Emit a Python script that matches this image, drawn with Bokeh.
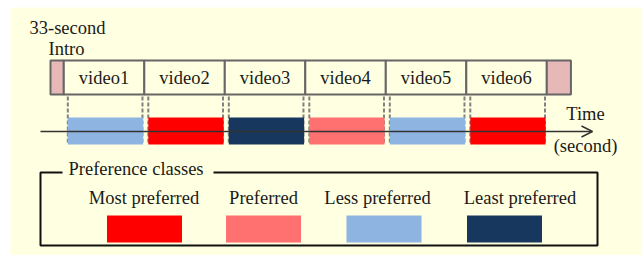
import numpy as np
from bokeh.plotting import figure
from bokeh.models import Range1d, ColumnDataSource, Arrow, OpenHead, Label
from bokeh.core.properties import value
from bokeh.embed import file_html
from bokeh.resources import INLINE

# ---------------- data ----------------
segment_names = ["Intro", "video1", "video2", "video3", "video4", "video5", "video6", "Outro"]
segment_durations_s = [33, 200, 200, 200, 200, 200, 200, 60]   # seconds (schematic)
video_class = ["Less preferred", "Most preferred", "Least preferred",
               "Preferred", "Less preferred", "Most preferred"]
classes = ["Most preferred", "Preferred", "Less preferred", "Least preferred"]
class_colors = ["#FF0000", "#FF7070", "#8EB4E2", "#17375E"]
play_lead_s = 10     # playback starts shortly after the video slot begins
play_tail_s = 3      # and ends shortly before the slot ends

# ---------------- style / layout ----------------
FONT = value("Liberation Serif")
FS = "18.5px"
TXT = "#1A1A1A"
BG = "#FFFFE1"
PINK = "#E6B8B7"
BORDER = "#666666"
PX_PER_S = 0.4025
TIME_ORIGIN_PX = 50          # pixel where time 0 sits
W, H = 641, 255
DY = -8                      # baseline correction for text placement

p = figure(width=W, height=H, output_backend="svg", toolbar_location=None,
           x_range=Range1d(0, W), y_range=Range1d(H, 0),
           min_border=0, outline_line_color=None,
           background_fill_color="white", border_fill_color="white")
p.axis.visible = False
p.grid.visible = False

# cream panel
p.quad(left=10, right=W, top=7, bottom=H, fill_color=BG, line_color=None)

# time axis range (library scale for time data)
t0 = -TIME_ORIGIN_PX / PX_PER_S
t1 = (W - TIME_ORIGIN_PX) / PX_PER_S
p.extra_x_ranges = {"time": Range1d(t0, t1)}

ends = np.cumsum(segment_durations_s)
starts = ends - np.array(segment_durations_s)
is_video = [n.startswith("video") for n in segment_names]
fills = [BG if v else PINK for v in is_video]

# top row of slots
BOX_TOP, BOX_BOT = 60, 94
seg_src = ColumnDataSource(dict(left=starts, right=ends, fill=fills,
                                mid=(starts + ends) / 2,
                                name=[n if v else "" for n, v in zip(segment_names, is_video)]))
p.quad(left="left", right="right", top=BOX_TOP, bottom=BOX_BOT, fill_color="fill",
       line_color=BORDER, line_width=2, source=seg_src, x_range_name="time")
p.text(x="mid", y=85 + DY, text="name", source=seg_src, x_range_name="time",
       text_font=FONT, text_font_size=FS, text_color=TXT,
       text_align="center", text_baseline="alphabetic")

# playback bars on the timeline
v_starts = starts[1:7]
v_ends = ends[1:7]
cmap = dict(zip(classes, class_colors))
play_l = v_starts + play_lead_s
play_r = v_ends - play_tail_s
play_src = ColumnDataSource(dict(left=play_l, right=play_r,
                                 color=[cmap[c] for c in video_class]))

# dashed guides
xs_d = []
ys_d = []
for a, b in zip(play_l, play_r):
    for x in (a, b - 1.5):
        xs_d.append([x, x])
        ys_d.append([96, 144])
p.multi_line(xs=xs_d, ys=ys_d, line_color="#808080", line_width=2,
             line_dash="4 2", x_range_name="time")

# timeline arrow
p.add_layout(Arrow(end=OpenHead(size=11, line_color="#333333", line_width=1.5),
                   x_start=40, y_start=131, x_end=592, y_end=131,
                   line_color="#333333", line_width=1.5))

p.quad(left="left", right="right", top=117, bottom=144, fill_color="color",
       line_color=None, source=play_src, x_range_name="time")

# texts
def lab(x, y, t, align="left"):
    p.add_layout(Label(x=x, y=y + DY, text=t, text_font="Liberation Serif",
                       text_font_size=FS, text_color=TXT, text_align=align,
                       text_baseline="alphabetic"))

lab(29, 35, "33-second")
lab(48, 56, "Intro")
lab(585, 121, "Time", "center")
lab(585, 153, "(second)", "center")

# legend frame with title gap
p.multi_line(xs=[[62, 40, 40, 597, 597, 213]], ys=[[172, 172, 245, 245, 172, 172]],
             line_color="#111111", line_width=2)
lab(68, 176, "Preference classes")

leg_label_x = [143.5, 263, 377, 519.5]
leg_swatch_x = [144, 263, 383.5, 504]
leg_src = ColumnDataSource(dict(lx=leg_label_x, sx=leg_swatch_x, name=classes, color=class_colors))
p.text(x="lx", y=205 + DY, text="name", source=leg_src, text_font=FONT, text_font_size=FS,
       text_color=TXT, text_align="center", text_baseline="alphabetic")
p.rect(x="sx", y=228.5, width=75, height=27, fill_color="color", line_color=None, source=leg_src)

open("out.html", "w").write(file_html(p, INLINE))
